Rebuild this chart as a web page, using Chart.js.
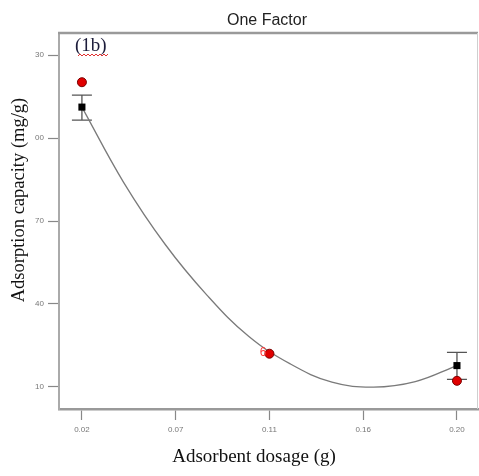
<!DOCTYPE html>
<html>
<head>
<meta charset="utf-8">
<script src="https://cdn.jsdelivr.net/npm/chart.js@4"></script>
<style>
  html, body { margin: 0; padding: 0; background: #fff; }
  #wrap { position: relative; width: 479px; height: 476px; }
</style>
</head>
<body>
<div id="wrap"><canvas id="chart"></canvas></div>
<script>
// Design points (mean, black squares) with error bar ends
const meanX = [0.02, 0.20];
const meanY = [111.2, 17.7];
const errLow = [106.5, 12.7];
const errHigh = [115.5, 22.5];

// Actual runs (red circles)
const runX = [0.02, 0.11, 0.20];
const runY = [120.2, 22.0, 12.2];

// Fitted curve
const curveX = [0.02, 0.04, 0.06, 0.08, 0.10, 0.12, 0.14, 0.16, 0.18, 0.20];
const curveY = [111.2, 84.0, 61.5, 43.2, 28.3, 18.3, 11.7, 9.9, 11.9, 17.7];

// Axis ticks as printed
const xTickValues = [0.02, 0.065, 0.11, 0.155, 0.20];
const xTickLabels = ['0.02', '0.07', '0.11', '0.16', '0.20'];
const yTickValues = [10, 40, 70, 100, 130];
const yTickLabels = ['10', '40', '70', '00', '30'];

const SERIF = '"Liberation Serif", "Times New Roman", serif';
const SANS = '"Liberation Sans", Arial, sans-serif';

// Error bars under the markers
const errorBars = {
  id: 'errorBars',
  beforeDatasetsDraw(chart) {
    const { ctx, scales: { x, y } } = chart;
    ctx.save();
    ctx.strokeStyle = '#555';
    ctx.lineWidth = 1.3;
    meanX.forEach((v, i) => {
      const px = x.getPixelForValue(v);
      const lo = y.getPixelForValue(errLow[i]);
      const hi = y.getPixelForValue(errHigh[i]);
      ctx.beginPath();
      ctx.moveTo(px, lo); ctx.lineTo(px, hi);
      ctx.moveTo(px - 10, lo); ctx.lineTo(px + 10, lo);
      ctx.moveTo(px - 10, hi); ctx.lineTo(px + 10, hi);
      ctx.stroke();
    });
    ctx.restore();
  }
};

// Frame top/right, x tick labels, titles and annotations
const decor = {
  id: 'decor',
  afterDraw(chart) {
    const { ctx, chartArea: a, scales: { x, y } } = chart;
    ctx.save();
    ctx.strokeStyle = '#9a9a9a';
    ctx.lineWidth = 2.5;
    ctx.beginPath();
    ctx.moveTo(a.left - 1, a.top); ctx.lineTo(a.right, a.top);
    ctx.stroke();
    ctx.lineWidth = 1;
    ctx.strokeStyle = '#cfcfcf';
    ctx.beginPath();
    ctx.moveTo(a.right - 0.5, a.top); ctx.lineTo(a.right - 0.5, a.bottom);
    ctx.stroke();

    ctx.textAlign = 'center';
    ctx.textBaseline = 'middle';
    ctx.fillStyle = '#777';
    ctx.font = '8px ' + SANS;
    xTickValues.forEach((v, i) => {
      ctx.fillText(xTickLabels[i], x.getPixelForValue(v), a.bottom + 21);
    });

    ctx.fillStyle = '#222';
    ctx.font = '16px ' + SANS;
    ctx.fillText('One Factor', 267, 21);

    ctx.fillStyle = '#111';
    ctx.font = '19px ' + SERIF;
    ctx.fillText('Adsorbent dosage (g)', 254, 457);

    ctx.save();
    ctx.translate(19, 200);
    ctx.rotate(-Math.PI / 2);
    ctx.font = '18.5px ' + SERIF;
    ctx.fillText('Adsorption capacity (mg/g)', 0, 0);
    ctx.restore();

    // (1b) with spell-check squiggle
    ctx.textAlign = 'left';
    ctx.fillStyle = '#1c1c3a';
    ctx.font = '19px ' + SERIF;
    ctx.fillText('(1b)', 75, 46);
    ctx.strokeStyle = '#e03030';
    ctx.lineWidth = 1;
    ctx.beginPath();
    for (let px = 78; px <= 108; px += 2) {
      const py = 55 + ((px / 2) % 2 ? 1 : -1);
      if (px === 78) ctx.moveTo(px, py); else ctx.lineTo(px, py);
    }
    ctx.stroke();

    // replicate count next to the centre point
    ctx.fillStyle = '#ff3838';
    ctx.font = '12px ' + SANS;
    ctx.textAlign = 'right';
    ctx.fillText('6', x.getPixelForValue(0.11) - 3, y.getPixelForValue(22.0) - 1);
    ctx.restore();
  }
};

new Chart(document.getElementById('chart'), {
  type: 'scatter',
  data: {
    datasets: [
      {
        type: 'line',
        data: curveX.map((v, i) => ({ x: v, y: curveY[i] })),
        borderColor: '#7a7a7a',
        borderWidth: 1.3,
        pointRadius: 0,
        tension: 0.4,
        fill: false,
        order: 3,
      },
      {
        data: meanX.map((v, i) => ({ x: v, y: meanY[i] })),
        pointStyle: 'rect',
        pointRadius: 5,
        backgroundColor: '#000',
        borderColor: '#000',
        borderWidth: 0,
        order: 2,
      },
      {
        data: runX.map((v, i) => ({ x: v, y: runY[i] })),
        pointStyle: 'circle',
        pointRadius: 4.5,
        backgroundColor: '#e00000',
        borderColor: '#7a0000',
        borderWidth: 1,
        order: 1,
      },
    ]
  },
  options: {
    responsive: true,
    maintainAspectRatio: false,
    animation: false,
    layout: { autoPadding: false, padding: { top: 33, right: 1, left: 0, bottom: 0 } },
    plugins: {
      legend: { display: false },
      tooltip: { enabled: false },
    },
    scales: {
      x: {
        type: 'linear',
        min: 0.009,
        max: 0.2101,
        afterBuildTicks: s => { s.ticks = xTickValues.map(v => ({ value: v })); },
        afterFit: s => { s.height = 67; },
        ticks: { display: false },
        grid: { drawOnChartArea: false, tickLength: 11, tickColor: '#888', tickWidth: 1.2 },
        border: { color: '#999', width: 2.5 },
      },
      y: {
        type: 'linear',
        min: 2,
        max: 138,
        afterBuildTicks: s => { s.ticks = yTickValues.map(v => ({ value: v })); },
        afterFit: s => { s.width = 59; },
        ticks: {
          callback: (v, i) => yTickLabels[i],
          color: '#777',
          font: { family: SANS, size: 8 },
          padding: 4,
        },
        grid: { drawOnChartArea: false, tickLength: 11, tickColor: '#888', tickWidth: 1.2 },
        border: { color: '#aaa', width: 2 },
      }
    }
  },
  plugins: [errorBars, decor]
});
</script>
</body>
</html>
